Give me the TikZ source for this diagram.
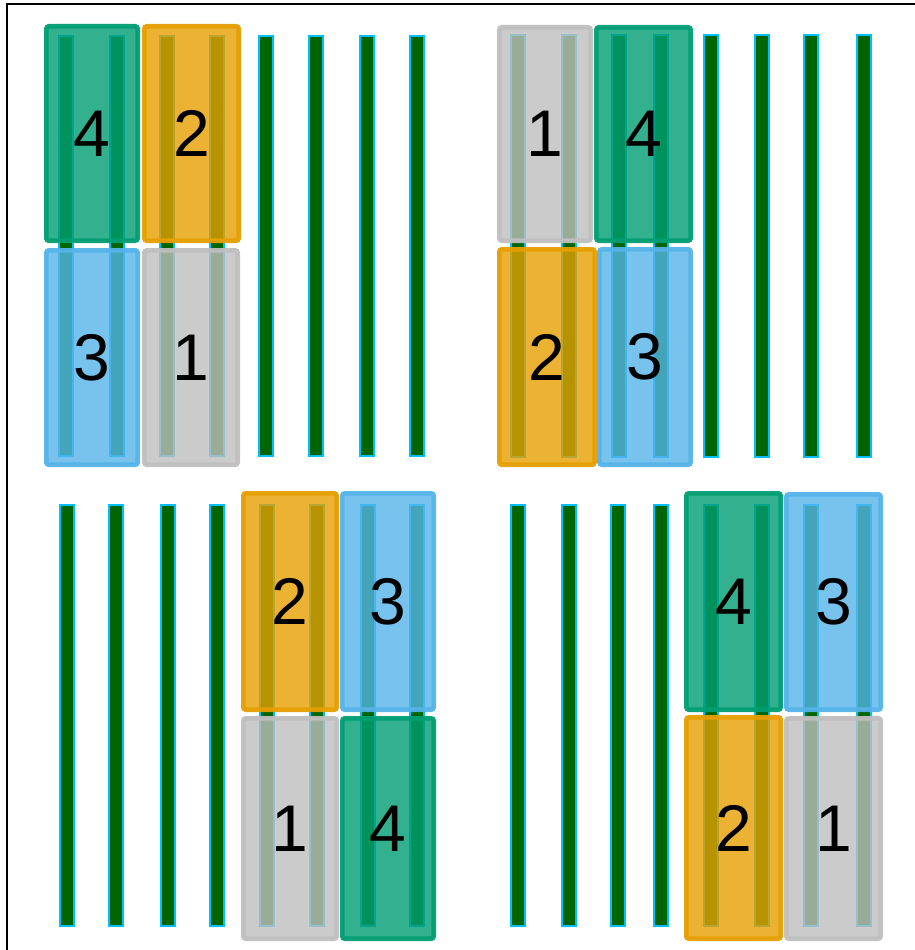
\documentclass[tikz,border=0pt]{standalone}
\usepackage{fontspec}
\setmainfont{Liberation Sans}
\begin{document}
\begin{tikzpicture}[x=1pt,y=-1pt,
  bar/.style={fill=barg,draw=barc,line width=1.2pt},
  box/.style={draw=#1,fill=#1,fill opacity=0.8,draw opacity=0.95,text opacity=1,
    line width=4.6pt,rounded corners=2.5pt,inner sep=0pt,
    font=\fontsize{66}{66}\selectfont},
]
\definecolor{barg}{HTML}{006400}
\definecolor{barc}{HTML}{00BFFF}
\definecolor{cgreen}{HTML}{009E73}
\definecolor{corange}{HTML}{E69F00}
\definecolor{cblue}{HTML}{56B4E9}
\definecolor{cgray}{HTML}{BFBFBF}
\useasboundingbox (0,0) rectangle (915,950);
\clip (0,0) rectangle (915,950);
\fill[white] (0,0) rectangle (915,950);
\draw[line width=2.2pt] (7,4) rectangle (930,965);
% bars
\foreach \x in {66,117,167,217,266,316,367,417}
  \draw[bar] (\x-7,36) rectangle (\x+7,456);
\foreach \x in {518,569,619,661,711,762,811,864}
  \draw[bar] (\x-7,35) rectangle (\x+7,457);
\foreach \x in {67,116,168,217,267,317,368,417}
  \draw[bar] (\x-7,505) rectangle (\x+7,926);
\foreach \x in {518,569,618,661,711,762,811,864}
  \draw[bar] (\x-7,505) rectangle (\x+7,926);
% boxes: \bx{name}{colour}{x1}{x2}{y1}{y2}{label}
\newcommand\bx[7]{%
  \node[box=#2,minimum width={#4-#3-4.6},minimum height={#6-#5-4.6}]
    (#1) at ({(#3+#4)/2},{(#5+#6)/2}) {#7};}
% panel 1
\bx{a4}{cgreen}{44}{140}{24}{243}{4}
\bx{a2}{corange}{142}{241}{24}{243}{2}
\bx{a3}{cblue}{44}{140}{248}{467}{3}
\bx{a1}{cgray}{142}{240}{248}{467}{1}
% panel 2
\bx{b1}{cgray}{497}{593}{25}{243}{1}
\bx{b4}{cgreen}{594}{693}{25}{243}{4}
\bx{b2}{corange}{497}{597}{247}{467}{2}
\bx{b3}{cblue}{597}{693}{247}{467}{3}
% panel 3
\bx{c2}{corange}{241}{339}{491}{712}{2}
\bx{c3}{cblue}{340}{436}{491}{712}{3}
\bx{c1}{cgray}{241}{339}{716}{941}{1}
\bx{c4}{cgreen}{340}{436}{716}{941}{4}
% panel 4
\bx{d4}{cgreen}{684}{783}{491}{712}{4}
\bx{d3}{cblue}{784}{883}{492}{712}{3}
\bx{d2}{corange}{684}{783}{715}{941}{2}
\bx{d1}{cgray}{784}{883}{716}{941}{1}
\end{tikzpicture}
\end{document}
